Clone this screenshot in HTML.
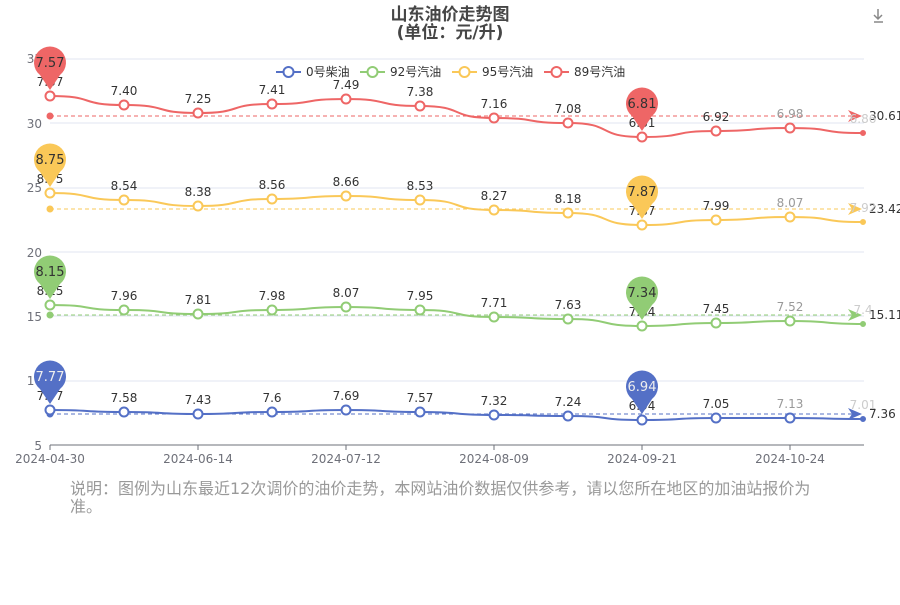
<!DOCTYPE html>
<html><head><meta charset="utf-8"><style>
html,body{margin:0;padding:0;background:#fff;}
svg text{font-family:"DejaVu Sans","Noto Sans CJK SC",sans-serif;}
</style></head><body>
<svg id="s" width="900" height="600" xmlns="http://www.w3.org/2000/svg">
<rect width="900" height="600" fill="#fff"/>
<text x="450" y="20" text-anchor="middle" font-size="17" font-weight="bold" fill="#464646">山东油价走势图</text>
<text x="450" y="38" text-anchor="middle" font-size="17" font-weight="bold" fill="#464646">(单位：元/升)</text>
<g stroke="#888" stroke-width="1.5" fill="none"><path d="M878 9v10M874 15l4 4 4-4M874 22h9"/></g>
</svg>
<script>
const s=document.getElementById('s');const NS='http://www.w3.org/2000/svg';
function el(t,a,txt){const e=document.createElementNS(NS,t);for(const k in a)e.setAttribute(k,a[k]);if(txt!==undefined)e.textContent=txt;s.appendChild(e);return e;}
const gy={35:59,30:123,25:188,20:252,15:316,10:381};
for(const k in gy){el('line',{x1:50,x2:864,y1:gy[k],y2:gy[k],stroke:'#E0E6F1'});}
[[35,63],[30,128],[25,192],[20,257],[15,321],[10,385],[5,450]].forEach(([v,y])=>el('text',{x:42,y:y,'text-anchor':'end','font-size':12,fill:'#6E7079'},v));
el('line',{x1:50,x2:864,y1:445,y2:445,stroke:'#6E7079'});
const dates=['2024-04-30','2024-06-14','2024-07-12','2024-08-09','2024-09-21','2024-10-24'];
dates.forEach((d,i)=>{const x=50+148*i;el('line',{x1:x,x2:x,y1:445,y2:450,stroke:'#6E7079'});el('text',{x:x,y:463,'text-anchor':'middle','font-size':12,fill:'#6E7079'},d);});
const xs=[50,124,198,272,346,420,494,568,642,716,790,863];
const S=[
 {c:'#ee6666',ys:[96,105,113,104,99,106,118,123,137,131,128,133],lb:['7.57','7.40','7.25','7.41','7.49','7.38','7.16','7.08','6.81','6.92','6.98','6.86'],avg:116,al:'30.61'},
 {c:'#fac858',ys:[193,200,206,199,196,200,210,213,225,220,217,222],lb:['8.75','8.54','8.38','8.56','8.66','8.53','8.27','8.18','7.87','7.99','8.07','7.92'],avg:209,al:'23.42'},
 {c:'#91cc75',ys:[305,310,314,310,307,310,317,319,326,323,321,324],lb:['8.15','7.96','7.81','7.98','8.07','7.95','7.71','7.63','7.34','7.45','7.52','7.4'],avg:315,al:'15.11'},
 {c:'#5470c6',ys:[410,412,414,412,410,412,415,416,420,418,418,419],lb:['7.77','7.58','7.43','7.6','7.69','7.57','7.32','7.24','6.94','7.05','7.13','7.01'],avg:414,al:'7.36'}];
S.forEach(o=>{
 el('line',{x1:50,x2:852,y1:o.avg,y2:o.avg,stroke:o.c,'stroke-dasharray':'4 3'});
 el('path',{d:`M848 ${o.avg-6}L862 ${o.avg}L848 ${o.avg+6}L852 ${o.avg}Z`,fill:o.c});
 el('circle',{cx:50,cy:o.avg,r:3.5,fill:o.c});
 el('text',{x:869,y:o.avg+4,'font-size':12,fill:'#333'},o.al);
 let d='M'+xs[0]+' '+o.ys[0];
 for(let i=1;i<xs.length;i++){const mx=(xs[i-1]+xs[i])/2;d+=` C${mx+10} ${o.ys[i-1]} ${mx-10} ${o.ys[i]} ${xs[i]} ${o.ys[i]}`;}
 el('path',{d:d,fill:'none',stroke:o.c,'stroke-width':2});
 xs.forEach((x,i)=>{
  const last=i==11;
  el('circle',{cx:x,cy:o.ys[i],r:last?2.5:4.5,fill:last?o.c:'#fff',stroke:o.c,'stroke-width':last?1:2});
  const faded=i>=10;
  el('text',{x:x,y:o.ys[i]-10,'text-anchor':'middle','font-size':12,fill:faded?(i==11?'#ccc':'#999'):'#333'},o.lb[i]);
 });
 [0,8].forEach(i=>{const x=xs[i],y=o.ys[i]-6;
  el('path',{d:`M${x} ${y} L${x-10} ${y-15} A16 16 0 1 1 ${x+10} ${y-15} Z`,fill:o.c});
  el('text',{x:x,y:y-23,'text-anchor':'middle','font-size':13,fill:o.c=='#5470c6'?'#eee':'#333'},o.lb[i]);});
});
const L=[['0号柴油','#5470c6',276],['92号汽油','#91cc75',360],['95号汽油','#fac858',452],['89号汽油','#ee6666',544]];
L.forEach(([t,c,x])=>{el('line',{x1:x,x2:x+25,y1:72,y2:72,stroke:c,'stroke-width':2});el('circle',{cx:x+12.5,cy:72,r:5,fill:'#fff',stroke:c,'stroke-width':2});el('text',{x:x+30,y:76,'font-size':12,fill:'#333'},t);});
el('text',{x:70,y:494,'font-size':16,fill:'#999'},'说明：图例为山东最近12次调价的油价走势，本网站油价数据仅供参考，请以您所在地区的加油站报价为');
el('text',{x:70,y:512,'font-size':16,fill:'#999'},'准。');
</script>
</body></html>
